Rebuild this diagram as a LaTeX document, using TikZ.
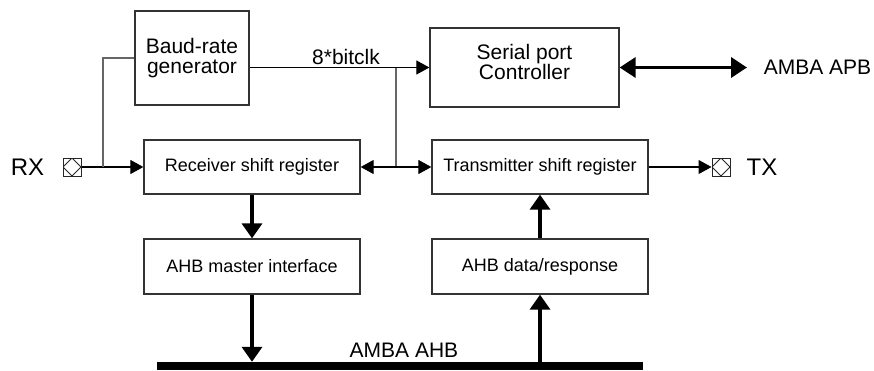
\documentclass[tikz,border=0pt]{standalone}
\usepackage{fontspec}
\setmainfont{Liberation Sans}
\usetikzlibrary{arrows.meta,calc}
\tikzset{
  blk/.style={draw=black!80, line width=1.3pt, rectangle, inner sep=0pt,
    minimum width=216pt, minimum height=54pt, font=\fontsize{18}{20}\selectfont},
  wire/.style={draw=black, line width=1.1pt},
  gwire/.style={draw=black!60, line width=1.2pt},
  fat/.style={draw=black, line width=3.5pt},
  tip/.style={-{Triangle[length=13pt,width=14pt]}},
  tips/.style={{Triangle[length=13pt,width=14pt]}-{Triangle[length=13pt,width=14pt]}},
  fattip/.style={-{Triangle[length=15pt,width=20pt]}},
  fattips/.style={{Triangle[length=16pt,width=20pt]}-{Triangle[length=16pt,width=20pt]}},
  pad/.style={draw=black!85, line width=1pt, minimum size=18pt, inner sep=0pt,
    path picture={\draw[line width=0.8pt] (path picture bounding box.north) -- (path picture bounding box.east)
      -- (path picture bounding box.south) -- (path picture bounding box.west) -- cycle;}},
  lbl/.style={font=\fontsize{21}{21}\selectfont, inner sep=0pt},
}
\begin{document}
\begin{tikzpicture}[x=1pt,y=-1pt]
\useasboundingbox (0,0) rectangle (874,370);

% blocks
\node[blk, minimum width=114pt, minimum height=94pt, align=center,
  font=\fontsize{21}{20}\selectfont] (baud) at (192,58) {Baud-rate\\generator};
\node[blk, minimum width=189pt, minimum height=79pt,
  label={[font=\fontsize{21}{20}\selectfont, align=center, yshift=6pt]center:Serial port\\Controller}] (ctrl) at (524.5,67.5) {};
\node[blk] (rsr) at (252,167) {Receiver shift register};
\node[blk] (tsr) at (540,167) {Transmitter shift register};
\node[blk, minimum height=55pt] (ahbm) at (252,266.5) {AHB master interface};
\node[blk, minimum height=55pt] (ahbd) at (540,266.5) {AHB data/response};

% bus
\node[fill=black, inner sep=0pt, minimum width=486pt, minimum height=8pt] (bus) at (400,366) {};
\node[lbl] (ahb) at (404,350) {AMBA AHB};

% pads and labels
\node[pad] (rxpad) at (72,167) {};
\node[pad] (txpad) at (721,167) {};
\node[font=\fontsize{24}{24}\selectfont, inner sep=0pt] (rx) at (27.5,167) {RX};
\node[font=\fontsize{24}{24}\selectfont, inner sep=0pt] (tx) at (762,167) {TX};
\node[lbl] (apb) at (817.5,67.5) {AMBA APB};
\node[lbl] (clk) at (346,57) {8*bitclk};

% coordinates
\coordinate (j1) at (103,167);
\coordinate (bo) at (baud.east |- ctrl.west);
\coordinate (j2) at (396,67.5);
\coordinate (j3) at (396,167);
\coordinate (apbend) at (747,67.5);

% connectors
\draw[wire, tip] (rxpad.east) -- (rsr.west);
\draw[gwire] (j1) |- (baud.west);
\draw[wire, tip] (bo) -- (ctrl.west);
\draw[gwire] (j2) -- (j3);
\draw[wire, tips] (rsr.east) -- (tsr.west);
\draw[wire, tip] (tsr.east) -- (txpad.west);
\draw[fat, fattips] (ctrl.east) -- (apbend);
\draw[fat, fattip] (rsr.south) -- (ahbm.north);
\draw[fat, fattip] (ahbm.south) -- (ahbm.south |- bus.north);
\draw[fat, fattip] (ahbd.south |- bus.north) -- (ahbd.south);
\draw[fat, fattip] (ahbd.north) -- (tsr.south);
\end{tikzpicture}
\end{document}
